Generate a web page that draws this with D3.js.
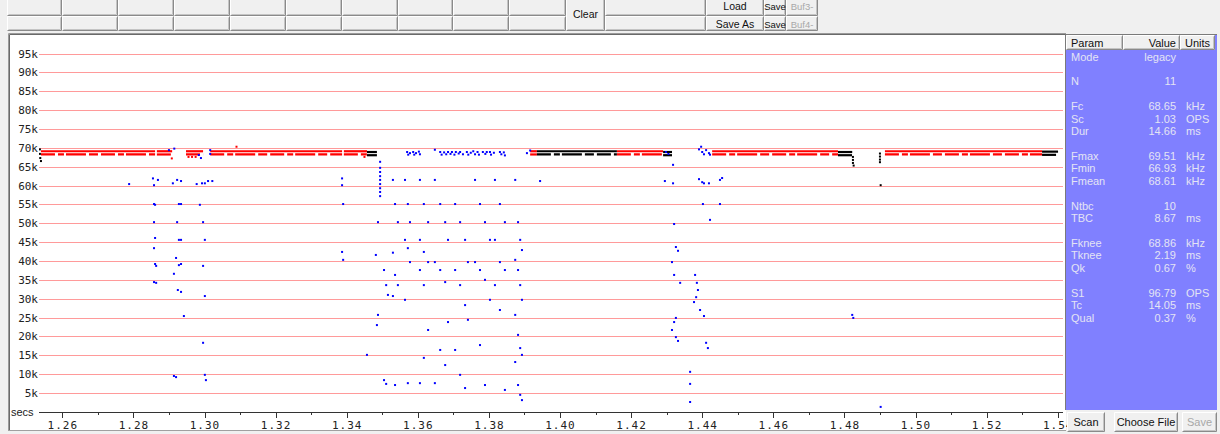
<!DOCTYPE html>
<html><head><meta charset="utf-8">
<script src="https://cdn.jsdelivr.net/npm/d3@7"></script>
<style>
html,body{margin:0;padding:0;background:#f0f0f0;overflow:hidden;}
svg{display:block;}
</style></head><body>
<svg id="c" width="1220" height="434"></svg>
<script>
// ---------- data ----------
const yTicksKHz = [5,10,15,20,25,30,35,40,45,50,55,60,65,70,75,80,85,90,95];
const xTicksSecs = [1.26,1.28,1.30,1.32,1.34,1.36,1.38,1.40,1.42,1.44,1.46,1.48,1.50,1.52,1.54];
const xMinorSecs = [1.27,1.29,1.31,1.33,1.35,1.37,1.39,1.41,1.43,1.45,1.47,1.49,1.51,1.53];

// main call trace segments: [tStart, tEnd, kHz]
const redTrace   = [[1.2540,1.2861,69.1],[1.2866,1.2909,69.1],[1.2948,1.2996,69.1],[1.3016,1.3387,69.1],[1.3392,1.3457,69.1],
                    [1.3916,1.3935,69.1],[1.4160,1.4290,69.1],[1.4428,1.4782,69.1],[1.4914,1.5356,69.1]];
const blackTrace = [[1.3457,1.3485,68.9],[1.3935,1.4160,69.1],[1.4290,1.4315,68.9],[1.4782,1.4822,68.9],[1.5356,1.5401,69.0]];
const blackPoints = [[1.2537,69.6],[1.2537,68.4],[1.2538,67.3],[1.2540,66.5],
                     [1.4824,67.6],[1.4824,66.8],[1.4824,66.0],[1.4826,65.3],
                     [1.4900,68.5],[1.4900,67.7],[1.4900,66.9],[1.4900,66.2],[1.4902,60.1]];
const redPoints = [[1.2908,67.2],[1.2955,67.6],[1.2965,67.6],[1.2975,67.6],[1.3090,70.3],[1.3450,67.6]];

// scattered low-quality points (blue): [t, kHz]
const bluePoints = [
 [1.2788,60.4],
 [1.2855,61.9],[1.2858,60.1],[1.2869,61.5],[1.2858,55.1],[1.2861,54.9],[1.2858,50.3],[1.2861,46.1],[1.2858,43.4],[1.2861,39.2],[1.2864,38.7],[1.2858,34.4],[1.2864,34.2],
 [1.2911,60.6],[1.2923,61.5],[1.2934,61.2],[1.2928,55.1],[1.2934,55.1],[1.2923,50.3],[1.2928,45.6],[1.2934,45.6],[1.2920,40.8],[1.2928,38.9],[1.2934,39.2],
 [1.2914,36.6],[1.2925,32.3],[1.2934,31.8],[1.2942,25.4],[1.2914,9.5],[1.2920,9.2],[1.2900,69.4],[1.2915,69.8],
 [1.2978,60.4],[1.2993,60.6],[1.3001,60.6],[1.3010,61.2],[1.3022,61.2],[1.2987,54.9],[1.2996,50.3],[1.3001,45.6],[1.2996,38.7],[1.3001,30.7],
 [1.2996,18.3],[1.3001,9.8],[1.3004,8.4],[1.2984,68.1],[1.2990,67.3],[1.3016,69.4],[1.3016,68.4],
 [1.3387,61.9],[1.3387,60.1],[1.3390,55.1],[1.3387,42.4],[1.3390,40.3],[1.3457,15.1],
 [1.3494,66.3],[1.3494,64.7],[1.3494,63.6],[1.3494,62.5],[1.3494,61.5],[1.3494,60.4],[1.3494,59.3],[1.3494,58.3],[1.3494,57.2],
 [1.3488,50.3],[1.3482,41.6],[1.3488,25.7],[1.3485,23.0],
 [1.3505,37.6],[1.3511,33.6],[1.3516,31.0],[1.3505,8.4],[1.3511,7.4],
 [1.3530,61.5],[1.3536,55.1],[1.3544,50.3],[1.3530,42.2],[1.3536,36.3],[1.3544,33.6],[1.3530,30.7],[1.3536,7.1],
 [1.3564,61.5],[1.3572,55.1],[1.3578,50.3],[1.3564,45.6],[1.3572,43.4],[1.3578,39.7],[1.3564,29.7],[1.3572,7.6],
 [1.3606,61.5],[1.3617,55.1],[1.3629,50.3],[1.3606,45.6],[1.3617,42.4],[1.3629,39.7],[1.3606,37.6],[1.3617,33.6],[1.3629,21.7],[1.3617,14.3],[1.3606,7.6],
 [1.3648,61.5],[1.3663,55.1],[1.3677,50.3],[1.3685,45.6],[1.3648,39.7],[1.3663,37.6],[1.3677,34.4],[1.3685,23.8],[1.3663,16.4],[1.3677,12.4],[1.3648,7.6],
 [1.3705,55.1],[1.3719,50.3],[1.3733,45.6],[1.3741,39.7],[1.3705,37.6],[1.3719,33.6],[1.3733,28.3],[1.3741,24.4],[1.3705,16.4],[1.3719,9.8],[1.3733,6.3],
 [1.3761,61.5],[1.3775,55.1],[1.3789,50.3],[1.3803,45.6],[1.3761,39.7],[1.3775,37.6],[1.3789,35.0],[1.3803,29.7],[1.3775,17.7],[1.3789,7.1],
 [1.3817,61.5],[1.3831,55.1],[1.3845,50.3],[1.3817,45.6],[1.3831,39.7],[1.3845,37.6],[1.3817,33.6],[1.3831,27.0],[1.3845,5.8],
 [1.3874,61.5],[1.3882,50.3],[1.3888,45.6],[1.3893,42.9],[1.3874,40.3],[1.3882,37.6],[1.3888,33.6],[1.3893,29.7],[1.3874,25.7],[1.3882,20.4],
 [1.3888,16.9],[1.3893,15.1],[1.3874,13.2],[1.3882,7.1],[1.3888,4.5],[1.3893,3.1],
 [1.3570,68.9],[1.3573,68.2],[1.3578,68.6],[1.3587,68.9],[1.3590,68.2],[1.3595,68.6],[1.3603,69.0],[1.3606,68.3],
 [1.3648,69.5],[1.3663,68.9],[1.3667,68.2],[1.3674,68.8],[1.3680,68.3],[1.3685,68.9],[1.3692,68.4],[1.3696,68.9],[1.3703,68.2],[1.3707,68.9],
 [1.3715,68.5],[1.3719,68.9],[1.3727,68.3],[1.3738,68.9],[1.3742,68.2],[1.3749,68.7],[1.3756,69.1],[1.3761,68.3],[1.3768,68.9],[1.3772,68.2],
 [1.3783,68.9],[1.3790,68.4],[1.3794,68.9],[1.3803,68.9],[1.3806,68.2],[1.3814,68.7],[1.3831,68.9],[1.3835,68.3],[1.3842,68.8],[1.3845,68.0],
 [1.3907,68.6],[1.3916,69.3],
 [1.3944,61.2],
 [1.4295,61.2],[1.4318,60.6],[1.4391,61.7],[1.4400,60.9],[1.4405,60.6],[1.4419,60.6],[1.4450,61.5],[1.4456,62.0],[1.4318,65.5],
 [1.4402,55.1],[1.4422,50.9],[1.4450,55.1],[1.4321,49.8],[1.4326,43.7],[1.4332,42.7],[1.4315,39.7],[1.4321,36.3],[1.4338,34.2],
 [1.4380,36.3],[1.4385,34.2],[1.4388,32.3],[1.4383,30.4],[1.4377,29.1],[1.4394,27.0],[1.4405,25.4],[1.4326,24.9],[1.4321,23.8],[1.4315,21.7],
 [1.4326,19.8],[1.4332,18.8],[1.4411,18.3],[1.4416,16.9],[1.4366,10.6],[1.4366,7.4],[1.4366,2.6],
 [1.4298,68.9],[1.4305,68.4],[1.4391,69.6],[1.4397,70.3],[1.4400,68.9],[1.4405,68.3],[1.4411,69.4],[1.4419,68.6],[1.4422,68.2],
 [1.4822,25.7],[1.4825,24.9],[1.4902,1.3]
];

// parameter table (blank entries are spacer rows)
const paramNames  = ["Mode","","N","","Fc","Sc","Dur","","Fmax","Fmin","Fmean","","Ntbc","TBC","","Fknee","Tknee","Qk","","S1","Tc","Qual"];
const paramValues = ["legacy","","11","","68.65","1.03","14.66","","69.51","66.93","68.61","","10","8.67","","68.86","2.19","0.67","","96.79","14.05","0.37"];
const paramUnits  = ["","","","","kHz","OPS","ms","","kHz","kHz","kHz","","","ms","","kHz","ms","%","","OPS","ms","%"];

// ---------- drawing ----------
const svg = d3.select('#c');
const W = 1220, H = 434;
const plotL = 39, plotR = 1063, plotT = 34, plotB = 430;
const x = d3.scaleLinear().domain([1.26, 1.54]).range([62.3, 1057.7]);
const y = d3.scaleLinear().domain([0, 95]).range([411.8, 53.6]);
const uiFont = 'Liberation Sans, Arial, sans-serif';

svg.append('rect').attr('width', W).attr('height', H).attr('fill', '#f0f0f0');

// generic 3D button
function button(g, x0, y0, w, h, label, disabled, fs) {
  const b = g.append('g');
  b.append('rect').attr('x', x0).attr('y', y0).attr('width', w).attr('height', h).attr('fill', '#f0f0f0');
  b.append('path').attr('d', `M${x0+0.5},${y0+h-0.5}V${y0+0.5}H${x0+w-0.5}`).attr('stroke', '#ffffff').attr('fill', 'none');
  b.append('path').attr('d', `M${x0+0.5},${y0+h-0.5}H${x0+w-0.5}V${y0+0.5}`).attr('stroke', '#8a8a8a').attr('fill', 'none');
  b.append('path').attr('d', `M${x0+1.5},${y0+h-1.5}H${x0+w-1.5}V${y0+1.5}`).attr('stroke', '#c4c4c4').attr('fill', 'none');
  if (label) {
    b.append('text').attr('x', x0 + w / 2).attr('y', y0 + h / 2 + 4).attr('text-anchor', 'middle')
      .attr('font-family', uiFont).attr('font-size', fs || 11)
      .attr('fill', disabled ? '#a8a8a8' : '#111').text(label);
  }
}

// toolbar
const tb = svg.append('g');
const colEdges = [7,62,118,174,230,286,342,398,453,509,566];
for (let i = 0; i < colEdges.length - 1; i++) {
  button(tb, colEdges[i], -4, colEdges[i+1]-colEdges[i], 20, '');
  button(tb, colEdges[i], 16, colEdges[i+1]-colEdges[i], 15, '');
}
button(tb, 566, -4, 39, 35, 'Clear', false, 10.5);
button(tb, 605, -4, 101, 20, '');
button(tb, 605, 16, 101, 15, '');
button(tb, 706, -4, 58, 20, 'Load', false, 10.5);
button(tb, 706, 16, 58, 15, 'Save As', false, 10.5);
button(tb, 764, -4, 22, 20, 'Save', false, 9.5);
button(tb, 764, 16, 22, 15, 'Save', false, 9.5);
button(tb, 786, -4, 32, 20, 'Buf3-', true, 9.5);
button(tb, 786, 16, 32, 15, 'Buf4-', true, 9.5);

// plot frame
svg.append('rect').attr('x', 8).attr('y', 33).attr('width', 1058).attr('height', 398).attr('fill', '#ffffff');
svg.append('path').attr('d', 'M8.5,434V33.5H1066').attr('stroke', '#9a9a9a').attr('fill', 'none');
svg.append('path').attr('d', 'M9.5,434V34.5H1066').attr('stroke', '#6a6a6a').attr('fill', 'none');
svg.append('rect').attr('x', 8).attr('y', 430).attr('width', 1060).attr('height', 4).attr('fill', '#f0f0f0');
svg.append('line').attr('x1', 8).attr('x2', 1066).attr('y1', 430.5).attr('y2', 430.5).attr('stroke', '#a0a0a0');

const defs = svg.append('defs');
defs.append('clipPath').attr('id', 'plotclip').append('rect')
  .attr('x', plotL).attr('y', plotT).attr('width', plotR - plotL).attr('height', plotB - plotT);

// grid lines + y labels
const grid = svg.append('g');
grid.selectAll('line').data(yTicksKHz).join('line')
  .attr('x1', plotL).attr('x2', plotR)
  .attr('y1', d => Math.round(y(d)) + 0.5).attr('y2', d => Math.round(y(d)) + 0.5)
  .attr('stroke', '#ff9a9a').attr('stroke-width', 1);
grid.selectAll('text').data(yTicksKHz).join('text')
  .attr('x', 38).attr('y', d => Math.round(y(d)) + 4)
  .attr('text-anchor', 'end')
  .attr('font-family', 'DejaVu Sans Mono, monospace').attr('font-size', 11)
  .attr('fill', '#222').text(d => d + 'k');

// x axis
const axisY = 412;
const xAxis = d3.axisBottom(x).tickValues(xTicksSecs).tickSize(6).tickPadding(3).tickFormat(d3.format('.2f'));
const axG = svg.append('g').attr('transform', `translate(0,${axisY})`);
const axInner = axG.append('g').call(xAxis);
axInner.select('.domain').remove();
axInner.selectAll('line').attr('stroke', '#333').attr('shape-rendering', 'crispEdges');
axInner.selectAll('text').attr('font-family', 'DejaVu Sans Mono, monospace').attr('font-size', 11)
  .attr('fill', '#222').attr('letter-spacing', 1);
axG.append('line').attr('x1', plotL).attr('x2', plotR).attr('y1', 0.5).attr('y2', 0.5).attr('stroke', '#333');
axG.selectAll('.minor').data(xMinorSecs).join('line').attr('class', 'minor')
  .attr('x1', d => Math.round(x(d)) + 0.5).attr('x2', d => Math.round(x(d)) + 0.5)
  .attr('y1', 0).attr('y2', 3).attr('stroke', '#333');
svg.append('text').attr('x', 11).attr('y', 416).attr('font-family', uiFont)
  .attr('font-size', 11).attr('fill', '#222').text('secs');

// data layer
const data = svg.append('g').attr('clip-path', 'url(#plotclip)');
function traces(arr, color) {
  data.append('g').selectAll('line').data(arr).join('line')
    .attr('x1', d => x(d[0])).attr('x2', d => x(d[1]))
    .attr('y1', d => y(d[2])).attr('y2', d => y(d[2]))
    .attr('stroke', color).attr('stroke-width', 2.2);
  data.append('g').selectAll('line').data(arr).join('line')
    .attr('x1', d => x(d[0])).attr('x2', d => x(d[1]))
    .attr('y1', d => y(d[2] - 0.85)).attr('y2', d => y(d[2] - 0.85))
    .attr('stroke', color).attr('stroke-width', 2.2)
    .attr('stroke-dasharray', '14,3,6,2,20,3,9,3');
}
traces(redTrace, '#ff0000');
traces(blackTrace, '#000000');
function dots(arr, color) {
  data.append('g').selectAll('rect').data(arr).join('rect')
    .attr('x', d => x(d[0]) - 1).attr('y', d => y(d[1]) - 1)
    .attr('width', 2).attr('height', 2).attr('fill', color);
}
dots(redPoints, '#ff0000');
dots(blackPoints, '#000000');
dots(bluePoints, '#0000ff');

// right panel
const pX = 1066, pY = 35, pW = 151, pH = 375;
svg.append('rect').attr('x', pX).attr('y', pY).attr('width', pW).attr('height', pH).attr('fill', '#8080ff');
svg.append('path').attr('d', `M${pX-0.5},${pY+pH}V${pY-0.5}H${pX+pW}`).attr('stroke', '#7a7a7a').attr('fill', 'none');
const hdr = svg.append('g');
button(hdr, pX, pY, 57, 15, '');
button(hdr, pX + 57, pY, 57, 15, '');
button(hdr, pX + 114, pY, 35, 15, '');
const txt = (g, xx, yy, s, anchor, fill) => g.append('text').attr('x', xx).attr('y', yy).attr('text-anchor', anchor)
  .attr('font-family', uiFont).attr('font-size', 11).attr('fill', fill).text(s);
txt(hdr, 1071, 47, 'Param', 'start', '#111');
txt(hdr, 1176, 47, 'Value', 'end', '#111');
txt(hdr, 1185, 47, 'Units', 'start', '#111');
const rows = svg.append('g');
paramNames.forEach((n, i) => {
  const yy = 60.5 + i * 12.43;
  if (n) txt(rows, 1071, yy, n, 'start', '#e4e4f4');
  if (paramValues[i]) txt(rows, 1176, yy, paramValues[i], 'end', '#e4e4f4');
  if (paramUnits[i]) txt(rows, 1186, yy, paramUnits[i], 'start', '#e4e4f4');
});
// bottom buttons
const bb = svg.append('g');
button(bb, 1067, 412, 38, 20, 'Scan');
button(bb, 1114, 412, 64, 20, 'Choose File');
button(bb, 1182, 412, 35, 20, 'Save', true);
</script>
</body></html>
